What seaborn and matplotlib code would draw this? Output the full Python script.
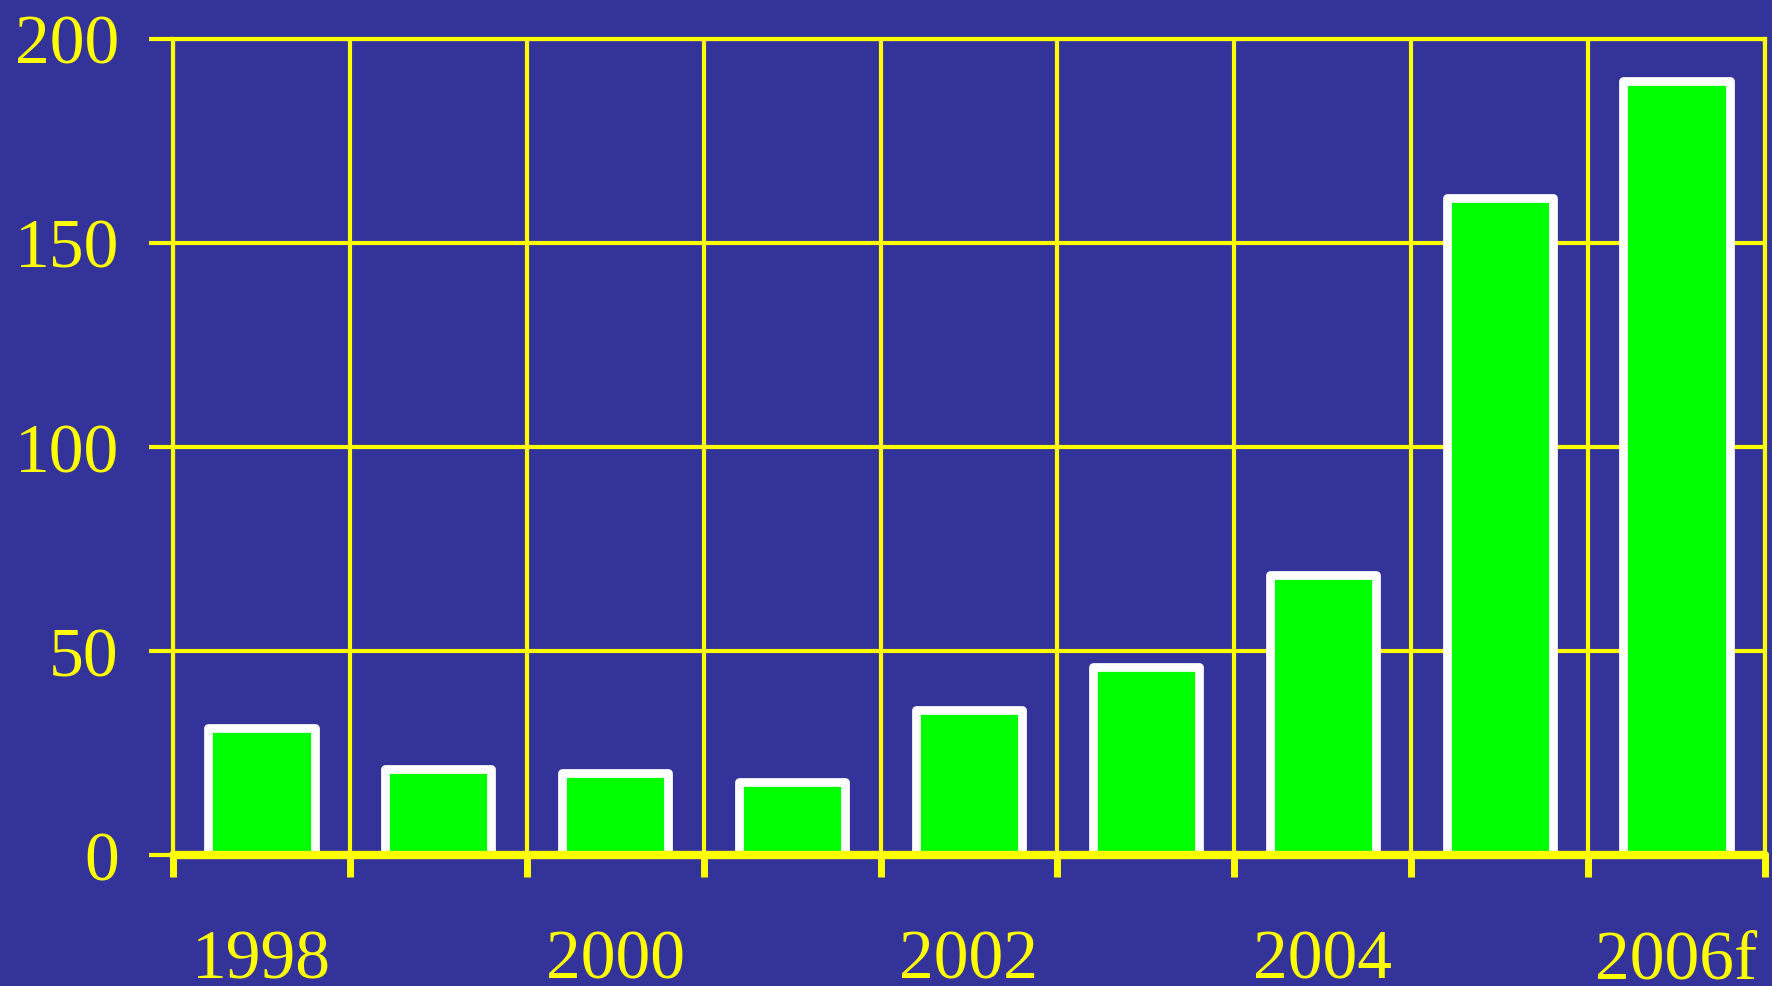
import matplotlib
matplotlib.use("Agg")
import matplotlib.pyplot as plt
import seaborn as sns
import numpy as np

categories = ["1998", "1999", "2000", "2001", "2002", "2003", "2004", "2005", "2006f"]
values = [31, 21, 20, 18, 35.5, 46, 68.5, 161, 189.5]
tick_labels = ["1998", "", "2000", "", "2002", "", "2004", "", "2006f"]
y_ticks = [0, 50, 100, 150, 200]

BG = "#333399"
YEL = "#FFFF00"
GRN = "#00FF00"

sns.set_style("white")
plt.rcParams["font.family"] = ["Liberation Serif", "DejaVu Serif"]

fig = plt.figure(figsize=(17.72, 9.87), dpi=100, facecolor=BG)
ax = fig.add_axes([173 / 1772, 1 - 856 / 987, (1765 - 173) / 1772, (856 - 39.5) / 987])
ax.set_facecolor(BG)

sns.barplot(x=categories, y=values, color=GRN, saturation=1, width=0.6,
            edgecolor="white", linewidth=6.3, ax=ax, zorder=3)
for p in ax.patches:
    p.set_joinstyle("round")

ax.set_xlim(-0.5, len(categories) - 0.5)
ax.set_ylim(0, 200)

# y axis
ax.set_yticks(y_ticks)
ax.set_yticklabels([str(v) for v in y_ticks])
ax.tick_params(axis="y", colors=YEL, labelcolor=YEL, length=17, width=3,
               pad=22, labelsize=50, left=True)
ax.grid(axis="y", which="major", color=YEL, linewidth=3, zorder=1)

# x axis
ax.set_xticks(range(len(categories)))
ax.set_xticklabels(tick_labels)
ax.set_xticks(np.arange(-0.5, len(categories), 1.0), minor=True)
ax.tick_params(axis="x", which="major", length=0, pad=53, labelsize=50, labelcolor=YEL)
ax.tick_params(axis="x", which="minor", length=16, width=5, colors=YEL, bottom=True)
ax.grid(axis="x", which="minor", color=YEL, linewidth=3, zorder=1)
ax.grid(axis="x", which="major", visible=False)
ax.set_axisbelow(True)

for side, sp in ax.spines.items():
    sp.set_visible(True)
    sp.set_color(YEL)
    sp.set_linewidth(3)
    sp.set_zorder(4)
ax.spines["bottom"].set_linewidth(6)
ax.spines["bottom"].set_capstyle("round")

ax.set_xlabel("")
ax.set_ylabel("")

fig.savefig("out.png", dpi=100, facecolor=BG)
